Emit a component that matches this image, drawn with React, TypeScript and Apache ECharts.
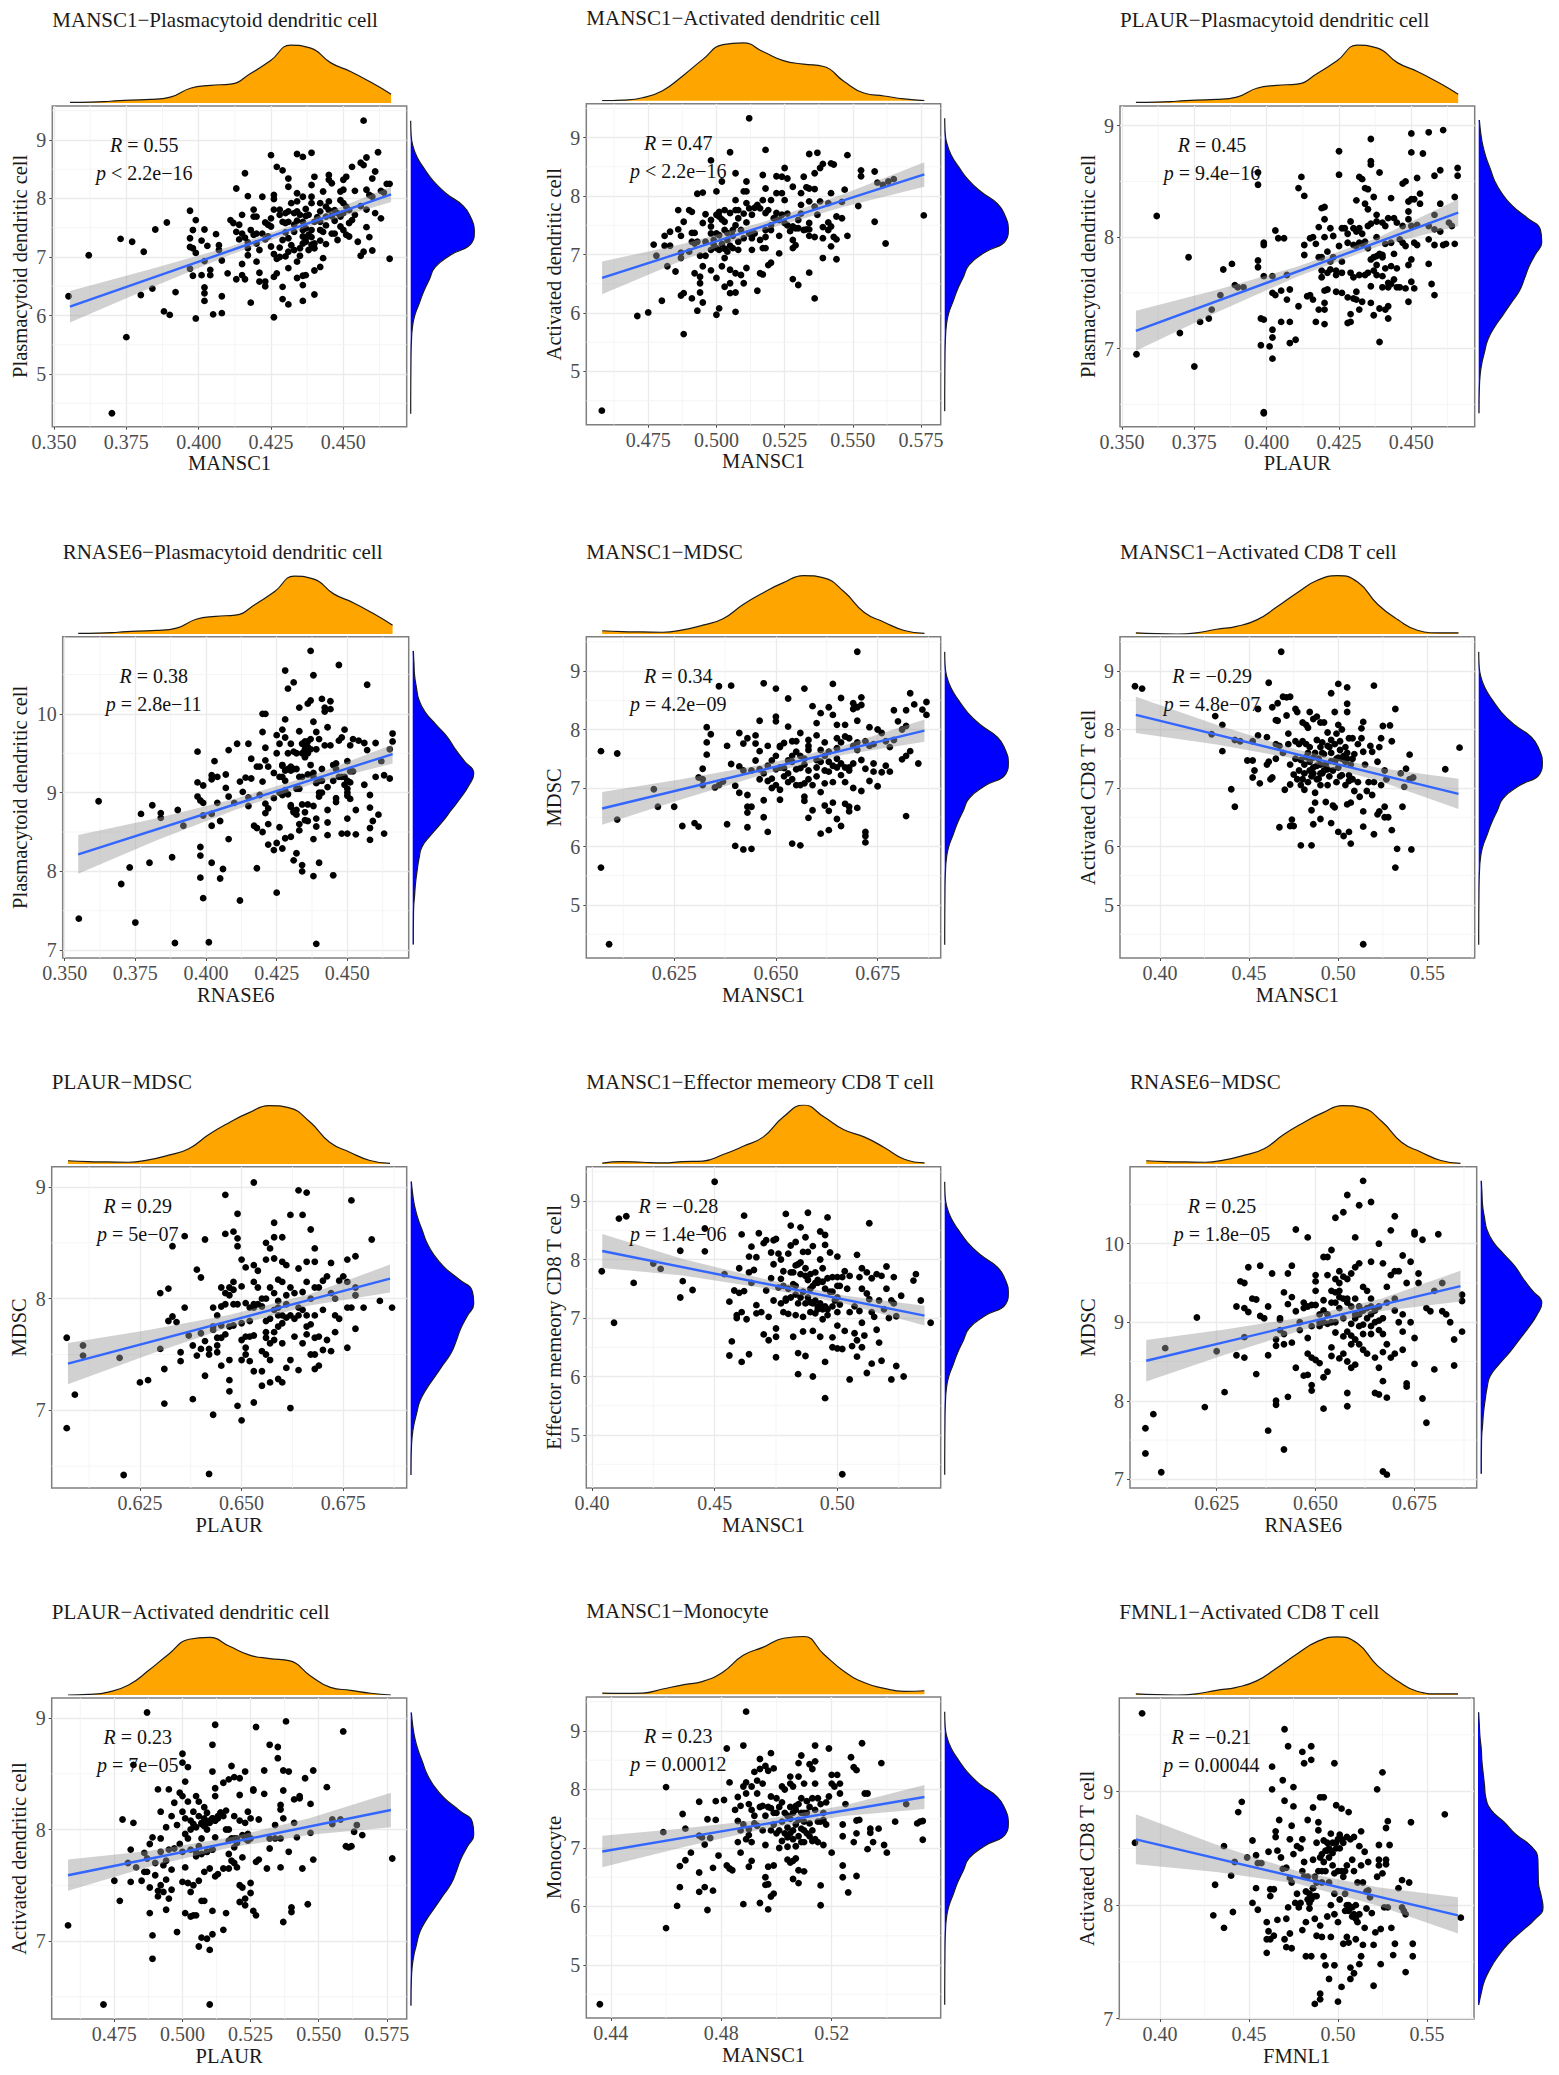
import { useEffect, useRef } from 'react';
import * as echarts from 'echarts';

const FONT = '"Liberation Serif", "Times New Roman", serif';

const titles = [
  'MANSC1\u2212Plasmacytoid dendritic cell', 'MANSC1\u2212Activated dendritic cell', 'PLAUR\u2212Plasmacytoid dendritic cell',
  'RNASE6\u2212Plasmacytoid dendritic cell', 'MANSC1\u2212MDSC', 'MANSC1\u2212Activated CD8 T cell',
  'PLAUR\u2212MDSC', 'MANSC1\u2212Effector memeory CD8 T cell', 'RNASE6\u2212MDSC',
  'PLAUR\u2212Activated dendritic cell', 'MANSC1\u2212Monocyte', 'FMNL1\u2212Activated CD8 T cell',
];
const xNames = ['MANSC1', 'MANSC1', 'PLAUR', 'RNASE6', 'MANSC1', 'MANSC1', 'PLAUR', 'MANSC1', 'RNASE6', 'PLAUR', 'MANSC1', 'FMNL1'];
const yNames = [
  'Plasmacytoid dendritic cell', 'Activated dendritic cell', 'Plasmacytoid dendritic cell',
  'Plasmacytoid dendritic cell', 'MDSC', 'Activated CD8 T cell',
  'MDSC', 'Effector memeory CD8 T cell', 'MDSC',
  'Activated dendritic cell', 'Monocyte', 'Activated CD8 T cell',
];
const rLabels = ['0.55', '0.47', '0.45', '0.38', '0.34', '\u22120.29', '0.29', '\u22120.28', '0.25', '0.23', '0.23', '\u22120.21'];
const pLabels = ['< 2.2e\u221216', '< 2.2e\u221216', '= 9.4e\u221216', '= 2.8e\u221211', '= 4.2e\u221209', '= 4.8e\u221207', '= 5e\u221207', '= 1.4e\u221206', '= 1.8e\u221205', '= 7e\u221205', '= 0.00012', '= 0.00044'];

// axis ranges and ticks
const xRanges = [[.3494, .4719], [.4523, .5822], [.3493, .4719], [.3493, .4717], [.6034, .6905], [.3776, .5765], [.6033, .6906], [.3977, .5421], [.6031, .6907], [.452, .5823], [.4311, .5595], [.3772, .5764]];
const yRanges = [[4.1, 9.58], [4.09, 9.58], [6.3, 9.176], [6.9, 10.98], [4.094, 9.587], [4.094, 9.587], [6.304, 9.182], [4.094, 9.587], [6.89, 10.98], [6.3, 9.18], [4.094, 9.58], [6.997, 9.825]];
const xTicks = [
  [.35, .375, .4, .425, .45], [.475, .5, .525, .55, .575], [.35, .375, .4, .425, .45],
  [.35, .375, .4, .425, .45], [.625, .65, .675], [.4, .45, .5, .55],
  [.625, .65, .675], [.4, .45, .5], [.625, .65, .675],
  [.475, .5, .525, .55, .575], [.44, .48, .52], [.4, .45, .5, .55],
];
const xDecimals = [3, 3, 3, 3, 3, 2, 3, 2, 3, 3, 2, 2];
const yTicks = [[5, 6, 7, 8, 9], [5, 6, 7, 8, 9], [7, 8, 9], [7, 8, 9, 10], [5, 6, 7, 8, 9], [5, 6, 7, 8, 9], [7, 8, 9], [5, 6, 7, 8, 9], [7, 8, 9, 10], [7, 8, 9], [5, 6, 7, 8, 9], [7, 8, 9]];

// regression lines and half width of the grey band at five even steps along it
const lineXs = [[.3555, .4665], [.4581, .5762], [.3548, .4662], [.3548, .466], [.6073, .6865], [.3865, .5674], [.6073, .6865], [.4042, .5355], [.6072, .6866], [.458, .5765], [.4369, .5536], [.3865, .5674]];
const lineYs = [[6.15, 8.07], [6.6, 8.37], [7.16, 8.22], [8.216, 9.49], [6.65, 7.98], [8.25, 6.9], [7.418, 8.18], [8.145, 7.04], [8.51, 9.46], [7.59, 8.175], [6.94, 7.87], [8.58, 7.91]];
const bandHalf = [
  [.27, .16, .07, .06, .13], [.28, .14, .07, .11, .21], [.18, .1, .045, .04, .12],
  [.245, .14, .07, .055, .12], [.28, .17, .085, .08, .19], [.31, .17, .08, .11, .26],
  [.185, .11, .055, .05, .125], [.29, .14, .08, .07, .17], [.265, .16, .08, .08, .195],
  [.14, .07, .045, .075, .155], [.27, .16, .08, .09, .205], [.22, .12, .055, .08, .16],
];

// marginal densities, heights relative to the peak
const topA = [.01, .015, .03, .05, .06, .1, .25, .3, .32, .5, .72, .98, .93, .68, .53, .35, .15];
const topB = [0, .01, .05, .17, .42, .7, .95, .98, .83, .68, .62, .58, .33, .13, .08, .03, 0];
const topC = [.055, .04, .035, .03, .07, .15, .26, .5, .7, .87, .99, .95, .72, .37, .2, .06, .01];
const topD = [.02, .005, 0, .02, .08, .13, .24, .46, .7, .91, .99, .88, .5, .24, .06, .02, .02];
const topE = [.015, .04, .03, .02, .04, .05, .16, .3, .46, .8, 1, .8, .58, .46, .28, .08, .02];
const topF = [.02, .015, .02, .09, .16, .22, .38, .66, .8, .95, .98, .68, .39, .2, .1, .05, .06];
const topDensity = [topA, topB, topA, topA, topC, topD, topC, topE, topC, topB, topF, topD];

const rightAlpha = [0, .005, .03, .1, .22, .36, .56, .82, .94, .99, .95, .62, .38, .29, .2, .13, .06, .025, .012, .006, .004, .002, .001, 0, 0];
const rightBeta = [.01, .03, .06, .11, .18, .25, .36, .52, .75, .96, .98, .88, .78, .71, .63, .5, .37, .24, .14, .09, .045, .02, .01, .006, .005];
const rightGamma = [.01, .02, .03, .06, .1, .2, .37, .55, .68, .83, .98, .9, .77, .62, .47, .3, .15, .1, .07, .045, .03, .015, .012, .01, .01];
const rightDelta = [.01, .02, .03, .05, .06, .08, .1, .12, .2, .4, .58, .82, .92, .925, .93, .97, 1, .87, .66, .46, .31, .19, .1, .05, .01];
const rightDensity = [rightAlpha, rightAlpha, rightBeta, rightGamma, rightAlpha, rightAlpha, rightBeta, rightAlpha, rightGamma, rightBeta, rightAlpha, rightDelta];
const rightSpan = [[9.33, 4.32], [9.33, 4.32], [9.05, 6.42], [10.8, 7.07], [9.33, 4.32], [9.33, 4.32], [9.05, 6.42], [9.33, 4.32], [10.8, 7.07], [9.05, 6.42], [9.33, 4.32], [9.7, 7.12]];

// points, flat x,y pairs
const pts1 = [.355,6.33,.362,7.03,.37,4.33,.373,7.31,.375,5.63,.377,7.26,.38,6.35,.381,7.09,.384,6.46,.385,7.47,.388,6.07,.389,7.59,.39,6.01,.392,6.4,.397,7.79,.397,6.8,.397,7.32,.397,7.17,.398,7.46,.398,7.15,.399,7.07,.398,6.68,.399,5.95,.399,7.63,.401,7.28,.401,6.69,.402,6.93,.402,6.48,.402,6.38,.402,6.25,.402,7.47,.403,7.19,.404,6.69,.404,6.78,.405,6.02,.406,7.39,.407,7.2,.407,7.12,.408,6.33,.408,6.04,.408,6.94,.41,6.72,.411,7.63,.412,7.58,.413,7.43,.413,8.17,.413,6.62,.415,6.69,.416,6.62,.415,7.72,.414,7.3,.415,6.88,.416,8.43,.416,7.33,.417,8.04,.418,7.46,.418,6.22,.417,7.15,.417,7.03,.419,7.81,.419,7.69,.42,7.69,.42,7.4,.42,7.23,.42,6.92,.421,6.73,.421,6.58,.422,8.03,.423,7.59,.422,7.4,.423,6.58,.423,6.5,.425,8.74,.425,7.18,.424,7.35,.426,5.97,.426,6.66,.427,6.72,.427,8.54,.426,8.06,.426,7.99,.426,7.81,.428,7.81,.425,7.52,.425,7.66,.427,6.97,.428,7,.429,8.48,.429,6.49,.429,6.28,.43,7.01,.43,7.75,.431,7.78,.433,7.75,.434,7.78,.431,8.34,.431,8.2,.431,6.81,.431,6.19,.434,8.09,.432,7.92,.434,7.95,.43,7.58,.431,7.6,.429,7.29,.432,7.2,.433,7.12,.431,7.09,.434,6.92,.434,8.76,.436,8.71,.439,8.78,.434,6.64,.436,6.68,.437,6.69,.436,6.52,.436,6.25,.436,8.03,.437,7.82,.436,7.46,.437,7.49,.439,7.46,.436,7.35,.437,7.32,.438,7.38,.439,7.34,.436,7.23,.437,7.26,.439,7.21,.44,7.23,.439,7.92,.44,8.37,.439,8.23,.439,8.03,.44,6.36,.44,6.77,.442,6.83,.443,6.98,.443,8.12,.442,7.92,.444,7.86,.442,7.78,.444,7.69,.442,7.46,.443,7.43,.445,8.4,.445,8.32,.446,8.26,.445,7.95,.445,7.8,.447,7.8,.446,7.4,.447,7.4,.448,7.29,.449,7.97,.449,8.12,.45,8.15,.45,8.32,.451,8.37,.453,8.54,.448,7.75,.449,7.69,.45,7.75,.45,7.92,.451,7.86,.449,7.52,.45,7.46,.451,7.38,.452,7.35,.452,7.58,.453,7.63,.454,8.13,.455,7.26,.456,8.61,.457,8.57,.457,9.33,.458,8.7,.462,8.79,.456,7.02,.457,7.09,.458,7.51,.459,7.34,.46,7.11,.458,8.15,.46,8.34,.461,8.46,.456,7.87,.458,7.81,.459,8.06,.46,8.03,.461,7.75,.463,7.66,.463,8.13,.464,8.1,.465,8.25,.466,8.25,.466,6.97,
  .428,7.72,.429,7.6,.43,7.42,.431,7.32,.433,7.55,.434,7.62,.435,7.72,.436,7.6,.437,7.7,.438,7.72,.44,7.6,.441,7.68,.442,7.6,.444,7.54,.438,7.12,.44,7.15,.442,7.28,.444,7.22,.446,7.7,.447,7.62,.452,7.8,.454,7.72,.433,7.43,.435,7.15,.435,7.02,.428,7.16,.426,7.05,.424,7.55,.423,7.3,.421,7.12,.419,7.38,.417,7.25,.415,7.4,.414,7.55];
const pts2 = [.458,4.33,.471,5.95,.475,6.01,.48,6.21,.477,7.17,.478,6.98,.481,7.32,.481,7.15,.483,7.15,.482,6.8,.483,7.39,.486,7.43,.486,7.76,.487,7.32,.485,6.71,.487,6.94,.487,7.03,.488,7.56,.487,6.3,.488,6.34,.488,5.64,.491,6.25,.49,7.76,.491,7.73,.491,7.37,.492,7.37,.491,7.22,.492,7.19,.49,7.05,.493,7.22,.492,6.68,.494,6.62,.494,6.51,.494,6.35,.493,6.04,.495,6.18,.493,8.04,.495,8.06,.495,7.54,.494,6.98,.496,6.98,.495,6.8,.498,6.73,.496,7.69,.498,7.59,.498,7.48,.498,7.36,.5,7.36,.496,7.22,.499,7.17,.5,7.11,.501,7.08,.498,8.61,.5,8.08,.502,8.25,.505,8.75,.5,6.6,.502,6.8,.505,6.74,.501,6.08,.5,5.97,.507,8.39,.507,6.02,.503,6.45,.505,6.51,.505,6.34,.507,6.35,.501,7.73,.501,7.65,.503,7.56,.503,7.76,.505,7.71,.507,7.76,.508,7.76,.503,7.42,.504,7.37,.506,7.42,.507,7.93,.51,8.08,.511,8.08,.506,7.11,.508,7.08,.504,7.25,.503,6.94,.507,6.68,.509,6.65,.51,6.51,.511,6.77,.508,7.22,.51,7.28,.511,8.25,.512,9.33,.512,7.79,.511,7.88,.509,7.42,.512,7.36,.513,7.08,.515,6.38,.516,6.68,.517,6.66,.516,7.79,.517,8.36,.517,7.93,.518,8.79,.518,8.13,.518,7.71,.519,7.76,.518,7.42,.52,7.42,.517,7.11,.518,7.11,.519,6.82,.52,6.86,.52,7.93,.522,8.34,.524,8.33,.522,8.05,.524,8.05,.525,7.93,.525,8.48,.526,8.3,.528,8.16,.522,7.71,.523,7.59,.525,7.54,.523,7.32,.523,7.02,.526,7.7,.528,7.48,.529,7.45,.528,7.25,.528,7.11,.529,7.16,.528,6.58,.53,6.48,.531,8.05,.531,7.85,.53,7.59,.532,8.33,.533,8.15,.534,8.13,.536,8.12,.534,8.72,.537,8.74,.536,8.39,.538,8.48,.539,8.55,.542,8.56,.543,8.54,.533,7.43,.534,7.43,.534,7.32,.536,7.3,.534,7.54,.536,6.25,.534,6.69,.534,7.91,.536,7.82,.538,7.91,.541,7.88,.537,7.68,.539,7.28,.539,6.94,.539,7.47,.541,7.42,.542,7.48,.542,7.14,.541,7.55,.544,6.92,.543,7.3,.544,7.26,.542,8.05,.547,8.11,.548,8.7,.544,7.65,.546,7.62,.546,7.9,.548,7.32,.552,7.83,.553,8.44,.553,8.34,.558,8.42,.559,8.23,.561,8.19,.563,8.25,.565,8.29,.558,7.56,.562,7.19,.576,7.67,
  .498,7.08,.499,7.25,.501,7.33,.502,7.18,.503,7.1,.504,7.05,.505,7.15,.506,7.32,.507,7.5,.508,7.62,.51,7.7,.511,7.55,.513,7.68,.514,7.8,.515,7.85,.513,7.28,.514,7.36,.516,7.25,.518,7.3,.52,7.5,.521,7.62,.522,7.6,.524,7.68,.526,7.5,.527,7.4,.53,7.45,.531,7.7,.532,7.42,.5,7.68,.502,7.6];
const pts3 = [.355,6.95,.362,8.19,.37,7.14,.373,7.82,.375,6.84,.377,7.24,.38,7.27,.381,7.35,.384,7.48,.385,7.71,.388,7.76,.389,7.57,.39,7.55,.392,7.55,.397,8.58,.397,8.47,.397,7.79,.397,7.73,.398,7.03,.398,7.27,.399,7.26,.399,6.42,.399,6.43,.399,7.95,.399,7.93,.399,7.65,.401,7.02,.402,7.1,.402,7.17,.402,7.65,.402,7.5,.403,7.48,.402,6.91,.403,8.06,.404,7.99,.405,7.24,.405,7.52,.406,7.99,.407,7.66,.408,7.05,.408,7.53,.407,7.44,.408,7.24,.41,7.08,.411,8.44,.412,8.54,.411,7.38,.413,8.37,.413,7.93,.413,7.84,.414,7.47,.415,7.48,.415,7.99,.416,8,.416,7.44,.417,7.94,.418,8.09,.418,7.82,.418,7.35,.417,7.24,.419,8.26,.42,8.27,.419,7.82,.419,7.7,.419,7.64,.42,8.16,.42,8,.42,7.52,.42,7.41,.42,7.35,.42,7.22,.421,7.87,.422,7.78,.421,7.53,.422,7.71,.422,8.08,.423,8.01,.424,7.51,.424,7.66,.425,8.77,.425,8.56,.425,7.92,.426,7.78,.426,7.68,.426,7.5,.427,8.08,.428,8.03,.428,7.46,.428,7.23,.429,7.31,.429,7.24,.429,8.14,.43,8.08,.43,7.93,.43,7.64,.431,7.51,.431,7.44,.431,8.05,.431,8.33,.432,8.08,.432,8.54,.433,8.52,.432,7.66,.432,7.35,.433,7.94,.433,8.03,.434,8.44,.435,8.43,.434,8.3,.435,8.25,.436,8.88,.436,8.68,.436,8.65,.435,7.68,.436,7.8,.436,7.56,.436,7.41,.437,7.3,.437,8.36,.438,8.14,.438,7.83,.438,8,.439,8.58,.438,8.2,.439,7.06,.439,7.36,.44,8.13,.44,7.84,.44,7.65,.441,8.1,.441,7.94,.441,7.35,.442,8.17,.442,7.38,.442,7.59,.442,7.27,.443,8.35,.443,7.74,.444,8.17,.444,7.85,.444,7.62,.445,8.13,.445,7.55,.446,7.98,.447,8.48,.447,7.95,.448,8.5,.448,7.54,.449,8.32,.449,8.23,.449,8.16,.45,8.93,.45,8.76,.45,8.34,.45,8.1,.449,7.75,.449,7.42,.45,7.8,.45,7.6,.451,8.34,.451,7.95,.451,7.54,.452,8.53,.452,8.11,.452,7.93,.453,8.39,.453,8.3,.454,8.75,.456,8.94,.456,8.1,.456,7.76,.456,7.98,.457,7.58,.458,8.55,.458,8.2,.458,8.07,.458,7.93,.458,7.48,.46,8.6,.46,8.3,.46,8.05,.461,8.96,.461,7.93,.462,7.94,.463,8.13,.464,8.1,.465,8.36,.465,7.94,.466,8.62,.466,8.55,
  .426,8.08,.428,7.95,.429,7.68,.43,7.45,.431,7.92,.432,7.95,.433,7.42,.434,7.96,.434,7.66,.435,8.1,.435,7.9,.436,8.12,.437,7.7,.437,7.82,.438,7.66,.438,7.75,.439,7.85,.44,7.82,.44,7.55,.441,7.72,.442,7.55,.443,7.95,.443,7.58,.445,7.72,.446,7.55,.447,8.1,.448,7.92,.424,7.7,.423,7.82,.421,7.68];
const pts4 = [.355,7.4,.362,8.89,.37,7.84,.373,8.05,.375,7.35,.377,8.73,.38,8.11,.381,8.84,.384,8.68,.384,8.74,.388,8.18,.389,7.09,.39,8.78,.392,8.58,.397,9.52,.397,9.13,.397,8.95,.398,8.9,.398,8.31,.398,8.2,.398,7.92,.399,9.09,.399,8.87,.399,8.71,.399,7.66,.401,7.1,.402,9.22,.402,9.17,.402,8.11,.402,8.58,.402,8.73,.403,9.4,.404,9.2,.404,8.87,.405,7.91,.405,8.64,.406,8.03,.407,9.23,.407,9.06,.408,9.54,.408,8.95,.408,8.41,.41,8.87,.411,9.62,.412,9.14,.412,7.63,.413,9.01,.414,9.19,.415,9.62,.415,8.94,.415,8.83,.416,9.43,.416,9.18,.417,8.58,.418,9.33,.418,8.04,.418,8.55,.419,9.33,.419,8.97,.42,10.0,.42,9.77,.42,9.14,.42,8.5,.421,10,.421,9.57,.421,9.41,.421,8.86,.421,8.74,.422,9.33,.422,8.8,.422,8.34,.422,8.6,.424,9.25,.424,8.93,.424,8.27,.425,9.73,.425,9.5,.425,7.73,.425,8.36,.426,9.62,.426,9.2,.426,8.56,.427,9.8,.427,9.34,.427,9.2,.427,8.97,.427,8.29,.428,10.55,.428,9.93,.428,9.7,.428,9.28,.428,9.03,.428,8.42,.429,10.32,.429,9.3,.429,8.98,.43,9.62,.43,9.33,.43,8.44,.43,8.84,.431,9.52,.431,8.76,.431,8.14,.431,10.4,.432,9.5,.432,9.3,.432,8.78,.432,8.23,.433,10.08,.433,9.78,.433,9.05,.433,8.6,.433,8.52,.434,9.62,.434,9.2,.434,8.08,.434,8.0,.435,9.6,.435,9.55,.435,8.75,.436,10.13,.436,9.65,.436,9.5,.436,9.23,.436,8.64,.436,8.85,.437,10.8,.437,10.17,.437,9.68,.437,9.35,.438,9.9,.438,9.25,.438,8.83,.438,7.94,.438,8.41,.438,10.49,.439,9.77,.439,9.55,.439,8.67,.439,7.08,.439,8.57,.44,9.68,.44,9.15,.44,8.11,.441,10.19,.441,9,.441,9.3,.442,10.03,.442,10.08,.442,9.6,.443,9.83,.443,9.07,.443,8.78,.443,8.46,.443,8.62,.444,10.16,.444,10.06,.444,9.6,.445,9.35,.445,9.15,.445,7.95,.446,8.93,.446,9.37,.446,8.88,.447,10.62,.447,9.66,.448,9.7,.448,8.48,.449,9.8,.449,9.2,.45,9.4,.45,9.05,.45,8.96,.45,8.67,.45,8.48,.451,9.6,.451,9.13,.451,8.92,.452,9.68,.452,9.27,.453,8.78,.453,8.47,.454,9.66,.456,9.63,.457,10.37,.456,9.1,.457,9.54,.458,8.97,.458,8.81,.458,8.55,.458,8.4,.459,8.64,.46,9.63,.46,9.2,.461,8.72,.462,9.4,.463,9.22,.463,8.48,.465,9.18,.465,9.55,.466,9.65,.466,9.75,
  .426,9.0,.427,9.35,.428,9.15,.429,9.5,.43,9.28,.431,9.3,.432,9.05,.433,9.2,.434,9.5,.435,9.65,.435,9.45,.436,9.58,.437,9.55,.438,9.2,.439,9.12,.44,9,.44,8.95,.441,9.15,.43,8.82,.431,8.75,.432,8.72,.434,8.85,.435,8.65,.446,9.3,.447,9.2,.448,9.2,.449,9.1,.45,9.0,.45,9.15,.451,9.27];
const pts5 = [.607,7.63,.607,5.64,.609,4.33,.611,7.59,.611,6.46,.62,6.98,.621,6.68,.625,6.68,.627,6.35,.63,6.4,.631,7.18,.631,6.34,.632,7.33,.632,7.15,.632,7.05,.633,7.57,.633,8.04,.633,7.78,.634,7.92,.635,7.01,.636,7.05,.636,8.74,.637,7.11,.638,7.72,.638,6.38,.639,8.75,.639,7.41,.64,6.01,.64,7.04,.641,7.94,.641,6.92,.641,7.37,.642,7.3,.642,5.95,.642,7.76,.643,7.85,.643,6.33,.643,6.88,.643,6.58,.643,6.68,.644,5.96,.644,7.3,.644,6.68,.645,7.9,.645,7.76,.645,7.47,.646,7.63,.646,7.15,.646,8.15,.647,6.5,.647,6.79,.647,8.79,.648,7.72,.648,7.12,.648,6.25,.649,7.47,.649,7.16,.65,7.05,.65,8.22,.65,8.14,.65,7.32,.65,8.7,.651,7.72,.651,6.97,.651,6.8,.652,7.77,.652,7.34,.653,8.05,.653,8.53,.653,7.1,.653,7.47,.654,7.8,.654,6.05,.654,7.55,.655,7.32,.655,7.8,.656,7.94,.656,6.02,.656,7.34,.656,7.05,.657,7.08,.657,6.78,.657,6.85,.657,8.7,.658,7.72,.658,7.3,.658,6.49,.658,7.65,.659,8.4,.659,6.62,.66,7.2,.66,7.9,.66,7.48,.66,8.11,.661,8.28,.661,6.93,.661,6.22,.661,7.65,.662,7.78,.662,7.3,.662,7.08,.662,6.7,.663,8.38,.663,6.28,.663,7.45,.663,6.61,.664,7.1,.664,6.75,.664,8.78,.664,8.25,.665,7.5,.665,7.85,.665,8.08,.665,6.47,.666,7.22,.666,7.42,.666,6.35,.666,8.54,.667,7.88,.667,7.1,.667,6.73,.667,8.08,.668,7.35,.668,6.6,.668,7.85,.668,6.68,.669,8.35,.669,7.42,.669,8.45,.669,7.0,.67,7.65,.67,8.38,.67,8.15,.67,6.66,.67,9.33,.671,8.55,.671,8.42,.671,7.48,.671,6.95,.672,7.8,.672,7.33,.672,6.25,.672,6.18,.672,6.07,.673,8.04,.673,7.72,.673,7.12,.674,7.42,.674,7.28,.674,7.75,.675,8,.675,7.03,.676,7.94,.676,7.27,.677,7.38,.677,7.8,.678,7.7,.678,7.28,.679,7.82,.679,8.33,.68,8.14,.681,8.0,.681,7.49,.682,8.06,.682,8.33,.682,7.55,.682,6.52,.683,8.62,.683,7.63,.684,8.43,.685,7.42,.686,8.34,.687,8.25,.687,8.47,
  .646,7.32,.647,7.25,.648,7.38,.649,7.0,.65,7.55,.651,7.35,.651,7.7,.652,7.2,.653,7.25,.654,7.45,.654,7.15,.655,7.62,.655,7.05,.656,7.55,.657,7.5,.657,7.4,.658,7.82,.658,7.15,.659,7.05,.66,7.35,.661,7.45,.662,7.55,.663,7.62,.663,7.28,.664,7.38,.665,7.35,.665,7.68,.666,7.78,.667,7.35,.668,7.3,.669,7.72,.67,7.78];
const pts6 = [.386,8.74,.39,8.7,.429,7.92,.431,8.23,.435,8.08,.435,7.63,.44,6.98,.442,6.68,.442,7.82,.445,7.8,.449,7.47,.452,7.47,.452,7.8,.452,7.18,.453,7.3,.455,8.35,.455,7.9,.456,7.08,.461,8.8,.46,7.87,.46,7.4,.461,7.45,.462,7.15,.463,8.38,.463,7.18,.465,8.16,.465,7.75,.465,7.5,.466,8.45,.466,8.15,.467,7.72,.467,6.33,.468,9.33,.469,8.56,.469,7.6,.47,6.97,.471,8.55,.471,8.24,.472,7.93,.472,7.75,.473,8.56,.473,7.4,.473,7.06,.473,6.35,.474,6.46,.475,7.23,.475,6.35,.476,8.35,.476,7.8,.477,7.15,.477,8.3,.478,7.3,.479,7.05,.479,6.02,.48,8.12,.48,7.8,.481,7.25,.481,6.97,.482,8.08,.482,7.53,.483,7.1,.483,8.03,.484,8.3,.484,7.7,.484,7.3,.485,6.02,.485,6.62,.486,8.18,.486,7.52,.486,7.25,.486,6.38,.487,6.92,.487,6.75,.488,8.22,.488,7.82,.488,7.38,.489,7.16,.49,8.12,.49,7.7,.49,7.4,.49,6.47,.491,7.78,.491,7.25,.492,8.12,.492,7.58,.493,6.76,.494,7.95,.494,7.32,.494,7.05,.495,7.7,.496,8.62,.496,7.82,.496,6.4,.496,7.46,.497,6.7,.498,8.3,.498,7.45,.498,6.67,.499,7.93,.499,7.1,.5,8.78,.5,8.08,.5,6.25,.5,7.52,.501,7.8,.501,7.2,.502,8.0,.502,7.5,.503,6.18,.504,7.7,.504,7.05,.505,8.72,.505,8.44,.505,8.3,.505,7.5,.505,6.72,.506,6.25,.506,7.85,.506,7.22,.507,6.75,.507,6.05,.508,7.5,.508,7.15,.509,7.58,.509,6.95,.511,7.75,.511,7.1,.512,6.85,.513,8.02,.513,7.85,.514,8.13,.514,7.62,.514,6.6,.514,6.34,.514,4.33,.515,7.4,.516,6.95,.517,7.1,.518,7.72,.519,7.62,.519,6.88,.52,7.1,.52,6.21,.52,8.75,.522,7.45,.522,6.55,.523,7.7,.523,6.6,.524,7.05,.524,7.85,.525,8.06,.526,7.3,.526,6.5,.526,6.68,.527,7.15,.528,6.5,.529,8.07,.53,6.28,.53,7.8,.532,8.35,.532,5.64,.533,5.96,.535,7.25,.536,6.68,.537,7.02,.538,7.33,.54,7.57,.54,7.15,.541,5.95,.542,7.18,.56,7.32,.568,7.69,
  .476,7.5,.478,7.75,.479,7.48,.48,7.15,.481,7.4,.482,7.75,.483,7.6,.484,7.45,.485,7.2,.486,7.35,.487,7.6,.488,7.15,.489,7.5,.49,7.25,.491,7.6,.492,7.3,.493,7.4,.494,7.72,.495,7.2,.496,7.6,.497,7.3,.498,7.75,.499,7.5,.5,7.35,.501,7.65,.502,7.22,.503,7.55,.504,7.45,.505,7.6,.506,7.12,.507,7.4,.508,7.85,.49,7.05];
const pts7 = [.607,7.65,.607,6.84,.609,7.14,.611,7.58,.611,7.49,.62,7.47,.621,6.42,.625,7.25,.627,7.27,.63,7.55,.63,8.05,.631,7.06,.631,7.37,.632,8.09,.632,7.8,.633,7.84,.633,8.47,.634,7.79,.635,7.52,.635,7.44,.636,8.56,.636,7.92,.637,7.67,.638,7.58,.638,7.1,.639,8.26,.639,7.49,.64,7.55,.64,7.69,.64,8.19,.641,7.62,.641,7.31,.641,8.53,.642,7.55,.642,7.5,.642,6.43,.643,7.72,.643,6.96,.643,7.92,.644,7.85,.644,7.58,.644,7.52,.645,7.76,.645,7.65,.645,7.93,.645,7.4,.646,8.93,.646,8.58,.646,7.95,.646,7.68,.647,8.1,.647,8.03,.647,7.45,.647,7.17,.647,7.27,.648,8.6,.648,8.15,.648,8.08,.648,7.76,.649,8.54,.649,8.76,.649,8.47,.649,7.95,.649,7.04,.65,8.35,.65,8.11,.65,7.78,.65,7.45,.65,6.91,.651,8.28,.651,7.96,.651,7.66,.651,7.56,.652,7.92,.652,7.8,.652,7.44,.653,9.04,.653,8.3,.653,8.15,.653,7.95,.653,7.67,.653,7.35,.653,7.07,.654,8.1,.654,8.25,.655,7.93,.655,7.53,.655,7.35,.655,7.22,.656,8.5,.656,8.35,.656,8,.656,7.8,.656,7.5,.657,8.45,.657,8.1,.657,7.45,.657,7.25,.658,8.68,.658,8.55,.658,8.36,.658,8.05,.658,7.7,.658,7.63,.659,8.17,.659,7.92,.659,7.28,.659,7.85,.66,8.55,.66,8.33,.66,8.15,.66,7.6,.66,7.25,.661,8.3,.661,8.03,.661,7.83,.661,7.38,.662,8.75,.662,8.1,.662,7.45,.662,7.02,.663,8.05,.663,7.66,.664,8.97,.664,8.27,.664,7.85,.664,7.36,.665,8.75,.665,8.06,.665,7.6,.666,8.33,.666,8.15,.666,7.85,.666,7.68,.666,8.95,.667,8.62,.667,8.0,.667,7.77,.668,8.45,.668,8.33,.668,7.85,.668,7.5,.668,7.37,.669,8.1,.669,7.66,.669,7.4,.67,8.16,.67,7.9,.67,7.54,.671,8.2,.671,7.63,.672,8.32,.672,8.05,.672,7.53,.673,8.0,.673,7.85,.673,7.7,.674,8.16,.674,7.82,.675,8.2,.676,8.15,.676,7.92,.676,8.35,.676,7.56,.677,8.88,.677,7.92,.678,8.1,.678,8.03,.678,7.73,.678,8.38,.68,7.92,.682,8.53,.684,7.98,.687,7.92,
  .652,7.66,.653,7.92,.654,7.95,.655,8.0,.656,7.7,.657,7.82,.658,7.9,.659,7.98,.659,7.75,.66,7.85,.66,7.78,.661,7.95,.662,7.85,.663,7.82,.664,7.92,.665,7.9,.666,7.75,.667,7.5,.668,8.1,.668,7.65,.65,7.63,.651,7.5,.648,7.95,.647,7.75,.646,8.05,.645,8.1,.644,7.65,.643,7.75,.656,7.65,.657,7.6];
const pts8 = [.404,7.8,.409,6.92,.411,8.7,.414,8.74,.417,7.6,.425,7.93,.428,7.84,.436,8.15,.436,7.35,.437,7.63,.441,7.48,.446,8.53,.446,8.14,.45,9.33,.454,7.75,.456,7.28,.456,6.36,.457,6.6,.458,7.47,.459,7.05,.459,7,.46,7.85,.46,7.43,.461,6.25,.461,8.43,.461,7.1,.462,8.75,.462,7.46,.463,6.98,.464,8.05,.464,7.78,.464,6.38,.465,8.22,.465,7.6,.466,7.82,.467,8.04,.467,7.22,.467,7.08,.468,8.45,.469,7.1,.47,8.28,.47,6.72,.471,7.47,.471,8.33,.472,7.02,.472,6.62,.473,7.68,.473,8.12,.474,8.33,.474,7.92,.474,7.3,.475,6.68,.475,6.82,.475,8.35,.475,6.33,.476,8.1,.476,7.52,.477,7.67,.477,8.0,.477,7.25,.478,7.8,.478,7.1,.479,8.78,.479,7.33,.48,8.1,.48,7.07,.481,8.58,.481,8.24,.481,7.78,.482,6.68,.482,7.58,.483,7.4,.483,8.3,.483,7.05,.484,6.4,.484,6.04,.484,7.92,.485,8.55,.485,7.35,.486,8.13,.486,7.02,.486,6.77,.487,8.38,.487,7.85,.487,6.35,.488,8.8,.488,8.13,.488,7.65,.489,7.27,.489,7.1,.49,6.0,.49,8.23,.49,7.55,.49,6.78,.491,7.78,.491,7.08,.492,7.2,.492,7.6,.493,8.48,.493,8.0,.493,6.68,.494,7.85,.494,7.15,.494,6.98,.495,8.42,.495,8.25,.495,7.5,.495,6.25,.495,5.63,.496,7.68,.496,8.72,.496,7.05,.497,8.12,.498,7.7,.498,7.45,.498,6.67,.498,6.5,.5,8.05,.5,7.7,.5,7.35,.5,7.1,.5,6.87,.5,6.48,.501,7.23,.502,7.7,.502,6.47,.502,4.33,.503,7.8,.503,6.78,.504,7.5,.505,7.72,.505,7.1,.505,5.95,.506,6.52,.507,7.2,.507,6.74,.508,8.08,.508,6.62,.508,6.34,.509,7.7,.509,7.12,.51,7.85,.51,7.5,.51,6.92,.51,6.5,.511,6.7,.512,7.78,.512,7.42,.512,6.06,.513,7.32,.513,8.62,.514,7.68,.514,7.1,.514,6.22,.515,7.02,.516,7.75,.516,6.8,.517,7.3,.517,6.58,.518,7.72,.518,6.27,.519,7.15,.52,7.88,.52,7.5,.521,7,.522,7.3,.522,5.95,.523,7.7,.523,7.25,.524,7.03,.524,6.18,.526,7.38,.527,6,.531,7.64,.532,7.75,.534,7.3,.538,6.92,
  .478,7.55,.479,7.3,.48,7.5,.481,7.35,.482,7.78,.483,7.55,.484,7.25,.485,7.75,.486,7.45,.487,7.25,.488,7.35,.489,7.75,.489,7.5,.49,7.25,.491,7.6,.491,7.3,.492,7.15,.492,7.65,.493,7.25,.494,7.62,.495,7.2,.496,7.15,.497,7.45,.498,7.2,.499,7.3,.5,7.55,.501,7.55,.483,7.9,.485,7.95,.487,7.72];
const pts9 = [.607,7.65,.607,7.33,.609,7.83,.611,7.09,.612,8.67,.62,9.06,.622,7.92,.625,8.63,.627,8.11,.63,8.58,.63,9.2,.631,9.52,.632,9.5,.632,9.18,.632,8.81,.632,8.55,.633,9.7,.633,9.13,.634,9.3,.635,9.29,.635,8.34,.636,9.72,.636,9.08,.637,9.05,.638,9.2,.638,8.58,.638,7.62,.639,9.62,.64,8.78,.64,8.7,.64,8.0,.64,7.95,.641,9.05,.641,8.9,.641,9.03,.642,8.85,.642,8.72,.642,9.38,.642,7.38,.643,9.62,.643,9.23,.643,8.05,.644,9.72,.644,9.32,.644,8.74,.645,10.18,.645,9.14,.645,8.42,.646,9,.646,8.9,.647,9.25,.647,9.18,.647,8.32,.648,10.08,.648,9.2,.648,8.8,.648,8.6,.648,8.33,.649,9.22,.649,8.95,.649,8.55,.649,8.2,.649,8.13,.65,9.6,.65,9.52,.65,9.4,.65,8.52,.651,9.1,.651,8.95,.651,8.48,.652,9.83,.652,9.28,.652,9,.652,8.3,.652,7.9,.653,9.83,.653,9.6,.653,8.37,.654,9.92,.654,9.0,.654,8.68,.654,8.57,.655,10.33,.655,9.38,.655,9.25,.655,8.87,.656,9.65,.656,9.4,.656,9.18,.656,8.54,.657,10.4,.657,9.58,.657,8.82,.657,8.6,.658,10.62,.658,9.55,.658,9.3,.658,8.5,.658,8.1,.658,7.93,.659,9.62,.659,9.2,.659,8.83,.659,8.42,.66,9.7,.66,9.05,.66,10.08,.66,8.78,.66,8.46,.661,10.49,.661,9.75,.661,9.1,.661,8.72,.662,10.8,.662,9.45,.662,8.97,.662,8.65,.663,9.4,.663,9.18,.663,8.6,.664,10.53,.664,9.77,.664,9.3,.664,8.95,.664,8.85,.665,9.15,.665,8.1,.665,9.0,.666,10.0,.666,8.9,.666,8.42,.666,8.08,.667,9.75,.667,9.05,.667,8.25,.667,7.1,.667,8.62,.668,9.45,.668,9.25,.668,8.04,.668,8.72,.668,7.06,.669,10.17,.669,9.6,.669,8.55,.67,9.65,.67,9.15,.67,8.6,.67,10.35,.67,9.3,.671,9.65,.671,9.0,.672,9.85,.672,9.1,.672,8.88,.672,8.65,.673,9.5,.673,8.22,.673,8.18,.674,9.77,.674,9.0,.675,10.12,.675,8.8,.675,8.47,.675,10.15,.676,9.62,.676,9.5,.677,10.05,.677,8.03,.678,9.18,.678,7.72,.679,9.14,.68,8.4,.68,9.4,.681,10.12,.682,9.5,.682,9.14,.683,9.1,.684,9.0,.685,8.78,.685,8.45,.687,9.35,.687,8.88,.687,9.27,
  .65,9.22,.651,9.0,.652,9.15,.653,9.1,.653,8.98,.654,9.4,.654,9.25,.655,9.0,.655,9.55,.656,9.5,.656,9.32,.657,9.3,.657,9.05,.658,9.25,.658,8.88,.659,8.98,.659,8.72,.66,9.3,.66,9.1,.661,9.2,.661,8.95,.662,9.15,.662,8.85,.663,9.05,.664,9.1,.664,9.2,.665,8.55,.666,9.2,.666,9.02,.667,8.85];
const pts10 = [.458,7.14,.471,6.43,.475,7.54,.477,7.36,.478,8.09,.48,7.7,.481,7.82,.481,7.53,.482,8.58,.482,8.06,.483,7.66,.485,7.54,.486,7.79,.486,7.62,.487,7.74,.487,9.05,.488,7.87,.487,7.62,.488,7.25,.488,7.48,.489,7.93,.489,7.05,.489,6.84,.49,7.7,.49,7.59,.491,7.45,.491,7.4,.491,8.36,.492,8.16,.492,7.8,.492,7.5,.492,7.92,.493,7.44,.493,7.68,.494,8.02,.494,7.72,.494,7.55,.494,7.28,.495,7.38,.495,8.36,.495,7.82,.496,7.46,.496,8.12,.496,7.64,.497,8.24,.497,7.83,.498,8.04,.498,7.08,.499,8.33,.499,7.87,.5,7.53,.5,7.8,.5,8.68,.5,8.6,.5,8.16,.5,8.3,.501,8.43,.501,8.1,.501,7.96,.501,7.66,.501,7.25,.502,8.56,.502,8.25,.502,7.92,.502,7.52,.503,8,.503,7.44,.503,7.22,.504,8.16,.504,7.5,.504,7.23,.505,8.3,.505,7.76,.505,7.23,.506,8.25,.506,7.85,.506,7.54,.506,6.95,.507,8.06,.507,7.92,.507,7.36,.507,7.03,.508,8.2,.508,8.1,.508,7.62,.508,7.36,.509,8.15,.509,7.02,.509,8.0,.509,7.8,.51,8.06,.51,7.65,.51,6.92,.51,6.43,.511,8.76,.511,8.52,.511,8.1,.511,7.82,.511,7.06,.511,7.27,.512,8.94,.512,8.37,.512,8.3,.512,8.08,.512,7.93,.512,7.58,.513,8.1,.514,8.15,.515,8.42,.515,7.1,.516,8.17,.516,7.25,.517,8.0,.517,7.78,.517,7.65,.517,8.45,.518,8.57,.518,7.72,.519,8.47,.519,8.12,.519,7.92,.519,7.84,.52,7.66,.52,7.92,.521,8.46,.521,8.31,.521,7.5,.521,7.35,.522,7.75,.522,7.48,.523,8.52,.523,8.06,.523,7.38,.523,7.32,.524,7.96,.524,7.9,.524,8.16,.525,8.1,.525,7.52,.525,7.43,.526,8.36,.526,8.35,.526,7.27,.527,8.92,.527,7.71,.527,7.23,.528,8.09,.528,7.73,.53,8.53,.53,8.32,.531,7.65,.532,8.76,.532,7.92,.532,7.83,.534,8.04,.534,7.92,.535,8.74,.535,8.64,.536,8.18,.536,8.22,.536,7.92,.536,7.66,.537,8.53,.537,8.35,.537,8.1,.537,7.17,.538,8.97,.539,8.52,.539,7.8,.54,7.3,.54,7.26,.541,8.27,.541,8.06,.542,7.93,.543,8.3,.543,8.28,.544,7.65,.545,8.46,.546,7.33,.547,8.23,.547,7.97,.548,7.73,.548,8.53,.553,8.38,.555,8.09,.555,8.05,.558,8.09,.559,8.88,.56,7.85,.561,7.84,.562,7.85,.563,7.98,.564,8.04,.566,7.95,.577,7.74,
  .503,8.08,.504,8.05,.505,8.02,.506,8.12,.507,8.05,.508,8.03,.509,8.06,.51,8.08,.511,8.1,.512,8.08,.513,8.12,.514,8.15,.515,8.12,.516,8.0,.517,7.9,.518,7.92,.519,7.7,.52,7.88,.521,8.08,.522,7.95,.523,7.92,.524,7.95,.525,7.92,.503,7.82,.505,7.8,.507,7.78,.509,7.8,.511,7.82,.513,7.6,.515,7.65];
const pts11 = [.436,4.33,.459,7.27,.46,8.04,.46,5.63,.464,6.01,.465,6.69,.465,6.33,.466,7.58,.467,6.79,.467,7.33,.469,6.92,.472,7.79,.472,7.21,.472,6.58,.472,6.25,.473,7.18,.474,7.06,.474,6.33,.475,7.49,.475,5.94,.476,7.17,.477,6.27,.477,6.66,.478,7.8,.478,7.48,.479,6.87,.481,7.82,.482,8.7,.482,6.7,.483,8.12,.483,6.65,.484,6.62,.485,7.65,.486,7.87,.486,7.1,.486,7.46,.487,7.72,.487,6.92,.487,7.3,.488,8.75,.488,8.05,.488,6.04,.488,7.4,.489,7.93,.489,7.15,.489,8.12,.489,9.33,.49,7.75,.49,6.68,.49,7.22,.491,8.05,.491,7.65,.491,7.1,.491,6.78,.492,8.3,.492,7.55,.493,8.15,.493,7.93,.493,7.38,.494,8.35,.494,6.06,.494,8.52,.495,8.1,.495,7.72,.495,7.3,.496,8.4,.496,7.05,.496,6.5,.496,6.37,.497,8.32,.497,7.7,.497,6.38,.497,5.95,.497,6.68,.498,8.62,.498,7.88,.498,7.3,.498,6.17,.499,8.36,.499,7.6,.499,6.7,.499,6.22,.5,7.85,.5,7.25,.501,7.7,.501,7,.502,8.05,.502,7.78,.502,7.12,.503,7.25,.503,8,.504,7.55,.504,7.02,.504,6.8,.505,8.22,.505,8.1,.505,7.7,.505,7.25,.505,6.75,.506,7.6,.506,8.05,.506,6.78,.506,6.47,.507,7.65,.507,7.03,.507,6.82,.508,8.45,.508,8.22,.508,7.75,.508,7.48,.508,6.62,.508,6.4,.509,8.58,.509,7.85,.509,7.33,.51,8.1,.51,7.6,.51,7.1,.51,6.6,.511,7.8,.511,7.25,.512,8.43,.512,7.42,.513,8.35,.513,7.85,.513,7.12,.514,8.1,.514,8.75,.514,7.65,.514,8.48,.515,7.45,.515,7.1,.516,6.36,.516,6.02,.516,7.75,.517,7.48,.517,7.05,.518,7.4,.518,7.78,.519,8.7,.519,7.88,.52,8.1,.52,8.25,.52,6.92,.521,8.05,.522,8.25,.523,8.1,.523,7.93,.524,7.4,.524,7.2,.524,6.7,.524,6.5,.525,7.75,.526,6.24,.527,8.55,.528,8.38,.528,7.1,.529,8.33,.529,7.25,.529,7.47,.529,6.52,.53,7.48,.531,8.79,.532,7.93,.533,7.93,.533,6.98,.534,7.33,.534,7.26,.535,7.1,.537,7.33,.538,8.45,.539,7.05,.54,6.92,.543,7.45,.547,7.75,.551,7.42,.552,7.45,.553,7.46,.553,7.14,
  .49,7.32,.492,7.42,.494,7.7,.496,7.55,.498,7.68,.499,7.4,.5,7.6,.501,7.3,.502,7.45,.503,7.6,.504,7.35,.504,7.18,.505,7.5,.506,7.3,.506,7.15,.507,7.72,.507,7.4,.508,7.2,.509,7.6,.509,7.1,.51,7.45,.51,7.3,.511,7.6,.512,7.2,.512,7.7,.513,7.3,.514,7.15,.515,7.85,.516,7.45,.517,7.6];
const pts12 = [.386,8.55,.39,9.69,.43,7.91,.431,8.18,.436,7.8,.436,8.52,.44,8.26,.441,7.94,.442,8.38,.444,8.82,.446,8.91,.449,8.42,.452,8.02,.452,8.57,.454,8.44,.454,8.15,.455,7.96,.455,8.37,.457,8.37,.46,7.58,.46,7.85,.46,7.7,.461,7.77,.461,8.47,.462,8.14,.462,8.08,.462,7.7,.463,9.22,.463,9.02,.464,8.14,.464,7.73,.465,8.65,.465,8.6,.466,8.48,.466,7.87,.467,8.75,.468,8.42,.469,9.1,.469,8.32,.47,9.55,.47,8.92,.47,7.7,.471,8.33,.471,7.88,.471,7.63,.472,9.4,.472,7.98,.473,8.58,.473,8.24,.473,7.75,.474,8.7,.474,8.2,.474,7.62,.475,8.87,.475,9.04,.475,8.45,.476,8.02,.477,8.1,.477,8.52,.478,7.98,.479,8.5,.479,8.02,.48,9.35,.48,8.58,.48,7.78,.481,9.25,.481,8.25,.481,8.38,.482,7.85,.482,7.55,.483,8.75,.483,8.05,.484,7.97,.484,8.1,.485,9.4,.485,9.28,.485,7.55,.486,8.86,.486,8.4,.486,8.15,.487,8.08,.487,7.88,.487,7.13,.488,8.55,.488,8.2,.488,7.73,.489,8.73,.489,8.66,.49,8.95,.49,7.82,.49,7.17,.49,7.22,.491,8.45,.491,8.3,.491,7.72,.492,8.95,.492,8.57,.492,7.55,.493,8.3,.493,7.47,.494,8.48,.494,7.9,.495,8.42,.495,8.2,.495,7.35,.496,8.63,.496,8.0,.496,7.72,.497,8.55,.497,8.46,.498,8.1,.498,7.92,.498,7.47,.498,9.25,.499,8.88,.499,8.5,.5,8.3,.5,7.85,.5,7.15,.501,8.62,.501,8.05,.502,8.85,.502,8.3,.502,7.28,.503,8.55,.503,7.66,.504,8.1,.504,7.95,.505,8.6,.505,8.35,.505,7.72,.506,8.82,.506,8.0,.506,7.67,.507,8.58,.507,7.45,.507,7.35,.508,8.4,.508,7.98,.509,8.6,.509,8.3,.509,7.4,.51,8.0,.51,7.7,.511,8.2,.511,7.85,.512,8.52,.512,7.92,.512,7.48,.513,8.65,.513,8.35,.513,7.55,.514,8.2,.514,7.65,.515,8.47,.515,7.8,.516,8.12,.516,7.97,.517,8.38,.517,8.13,.518,8.07,.519,7.93,.52,7.65,.52,7.29,.521,7.76,.522,8.25,.522,9.02,.523,8.53,.523,8.4,.523,8.35,.524,7.79,.524,7.48,.525,9.17,.525,8.28,.526,7.98,.527,8.68,.527,8.4,.527,8.36,.528,8.74,.528,7.98,.529,8.53,.53,7.8,.531,7.56,.532,7.66,.534,8.15,.536,8.22,.536,7.98,.537,7.95,.538,7.92,.538,7.41,.54,8.2,.541,8.73,.542,7.55,.542,7.66,.56,8.8,.569,7.89,
  .48,8.3,.482,8.12,.483,8.25,.484,8.02,.485,8.05,.486,8.15,.487,8.25,.488,8.08,.489,8.3,.49,8.42,.491,8.2,.492,8.38,.493,8.48,.494,8.55,.495,8.5,.496,8.48,.497,8.35,.498,8.28,.499,8.55,.5,8.58,.501,8.5,.502,8.58,.503,8.25,.504,8.3,.505,8.0,.506,7.95,.507,7.98,.508,7.9,.509,7.92,.51,7.88];
const points = [pts1, pts2, pts3, pts4, pts5, pts6, pts7, pts8, pts9, pts10, pts11, pts12];

// layout: [left, right, top, bottom] of each plot box, then its two margins
const boxes = [
  [52.3, 406.7, 106, 426.7], [586.3, 940.7, 103.7, 424.7], [1120, 1474.7, 106, 426.7],
  [62.7, 408.7, 636.7, 958], [586.3, 940.7, 636.7, 958], [1120, 1474.7, 636.7, 958],
  [51.7, 406.7, 1166.7, 1488], [586.3, 940.7, 1166.7, 1488], [1130, 1476.7, 1166.7, 1488],
  [51.7, 406.7, 1698, 2019], [586.3, 940.7, 1697, 2018], [1119.3, 1474, 1698, 2019],
];
const topStrips = [[44, 59], [41.7, 59], [44, 59], [575, 59], [575, 59], [575, 59], [1105, 59], [1105, 59], [1105, 59], [1636.3, 58.7], [1635.3, 59], [1636.3, 58.7]];
const rightStrips = [[410.7, 64.3], [944.7, 64.3], [1478.7, 64.3], [412.7, 62.3], [944.7, 64.3], [1478.7, 64.3], [410.7, 64.3], [944.7, 64.3], [1480.7, 62.3], [410.7, 64.3], [944.7, 64.3], [1478, 65]];
const titleTops = [9, 7, 9, 541, 541, 541, 1071, 1071, 1071, 1601, 1600, 1601];
const yNameGaps = [22, 22, 22, 32, 22, 22, 22, 22, 32, 22, 22, 22];
const statOffsets = [92, 92, 92, 91, 92, 92, 86, 92, 92, 86, 92, 92];

const pairs = (flat: number[]) => {
  const out: number[][] = [];
  for (let i = 0; i < flat.length; i += 2) out.push([flat[i], flat[i + 1]]);
  return out;
};

const minorValues = (ticks: number[], range: number[]) => {
  const step = ticks[1] - ticks[0];
  const out: number[] = [];
  for (let v = ticks[0] - step * 1.5; v < range[1]; v += step) {
    if (v > range[0]) out.push(v);
  }
  return out;
};

const buildOption = () => {
  const grid: any[] = [];
  const xAxis: any[] = [];
  const yAxis: any[] = [];
  const series: any[] = [];
  const graphic: any[] = [];

  titles.forEach((_, i) => {
    const [left, right, top, bottom] = boxes[i];
    const xRange = xRanges[i];
    const yRange = yRanges[i];
    const main = i * 3;
    const upper = main + 1;
    const side = main + 2;
    const labelStyle = { color: '#4d4d4d', fontFamily: FONT, fontSize: 20 };
    const nameStyle = { color: '#1a1a1a', fontFamily: FONT, fontSize: 20.5 };
    const splitLine = { show: true, lineStyle: { color: '#ebebeb', width: 1.3 } };

    // the side density only covers the span of the data, so its grid is cut to that span
    const [spanTop, spanBottom] = rightSpan[i];
    const perUnit = (bottom - top) / (yRange[1] - yRange[0]);
    const sideTop = top + (yRange[1] - spanTop) * perUnit;
    const sideHeight = (spanTop - spanBottom) * perUnit;

    grid.push({ left, top, width: right - left, height: bottom - top, show: true, borderColor: '#7f7f7f', borderWidth: 1.5, backgroundColor: '#fff' });
    grid.push({ left, top: topStrips[i][0], width: right - left, height: topStrips[i][1] });
    grid.push({ left: rightStrips[i][0], top: sideTop, width: rightStrips[i][1], height: sideHeight });

    xAxis.push({
      gridIndex: main, type: 'value', min: xRange[0], max: xRange[1],
      name: xNames[i], nameLocation: 'middle', nameGap: 26, nameTextStyle: nameStyle,
      axisLine: { show: false },
      axisTick: { show: true, length: 3, lineStyle: { color: '#4d4d4d' }, customValues: xTicks[i] },
      axisLabel: { ...labelStyle, margin: 5, customValues: xTicks[i], formatter: (v: number) => v.toFixed(xDecimals[i]) },
      splitLine,
    });
    yAxis.push({
      gridIndex: main, type: 'value', min: yRange[0], max: yRange[1],
      name: yNames[i], nameLocation: 'middle', nameGap: yNameGaps[i], nameTextStyle: nameStyle,
      axisLine: { show: false },
      axisTick: { show: true, length: 3, lineStyle: { color: '#4d4d4d' }, customValues: yTicks[i] },
      axisLabel: { ...labelStyle, margin: 6, customValues: yTicks[i], formatter: (v: number) => String(Math.round(v)) },
      splitLine,
    });
    xAxis.push({ gridIndex: upper, type: 'value', min: xRange[0], max: xRange[1], show: false });
    yAxis.push({ gridIndex: upper, type: 'value', min: 0, max: 1, show: false });

    const right_ = rightDensity[i];
    xAxis.push({ gridIndex: side, type: 'value', min: 0, max: 1, show: false });
    yAxis.push({ gridIndex: side, type: 'category', inverse: true, boundaryGap: false, data: right_.map((_d, k) => String(k)), show: false });

    const inMain = { xAxisIndex: main, yAxisIndex: main };
    const minorX = minorValues(xTicks[i], xRange);
    const minorY = minorValues(yTicks[i], yRange);

    series.push({
      type: 'custom', ...inMain, z: 1, silent: true, clip: false, data: [[xRange[0], yRange[0]]],
      renderItem: (_p: any, api: any) => {
        const style = { stroke: '#f2f2f2', lineWidth: 0.8 };
        const children = [
          ...minorX.map((v) => {
            const a = api.coord([v, yRange[0]]);
            const b = api.coord([v, yRange[1]]);
            return { type: 'line', shape: { x1: a[0], y1: a[1], x2: b[0], y2: b[1] }, style };
          }),
          ...minorY.map((v) => {
            const a = api.coord([xRange[0], v]);
            const b = api.coord([xRange[1], v]);
            return { type: 'line', shape: { x1: a[0], y1: a[1], x2: b[0], y2: b[1] }, style };
          }),
        ];
        return { type: 'group', children };
      },
    });

    series.push({
      type: 'scatter', ...inMain, z: 3, symbol: 'circle', symbolSize: 6.8, silent: true,
      itemStyle: { color: '#000', opacity: 1 }, data: pairs(points[i]),
    });

    const [x0, x1] = lineXs[i];
    const [y0, y1] = lineYs[i];
    series.push({
      type: 'custom', ...inMain, z: 4, silent: true, data: [[x0, y0]],
      renderItem: (_p: any, api: any) => {
        const upperEdge: number[][] = [];
        const lowerEdge: number[][] = [];
        bandHalf[i].forEach((h, k) => {
          const t = k / (bandHalf[i].length - 1);
          const x = x0 + (x1 - x0) * t;
          const y = y0 + (y1 - y0) * t;
          upperEdge.push(api.coord([x, y + h]));
          lowerEdge.unshift(api.coord([x, y - h]));
        });
        return {
          type: 'polygon',
          shape: { points: [...upperEdge, ...lowerEdge] },
          style: { fill: 'rgba(153,153,153,0.45)' },
        };
      },
    });

    series.push({
      type: 'line', ...inMain, z: 5, silent: true, showSymbol: false,
      lineStyle: { color: '#3366ff', width: 2.4 },
      data: [[x0, y0], [x1, y1]],
    });

    const top_ = topDensity[i];
    series.push({
      type: 'line', xAxisIndex: upper, yAxisIndex: upper, silent: true, showSymbol: false, smooth: 0.5,
      lineStyle: { color: '#1a1a1a', width: 1.2 },
      areaStyle: { color: '#ffa500', opacity: 1 },
      data: top_.map((d, k) => [x0 + (x1 - x0) * k / (top_.length - 1), d]),
    });

    series.push({
      type: 'line', xAxisIndex: side, yAxisIndex: side, silent: true, showSymbol: false, smooth: 0.5,
      lineStyle: { color: '#1a1a1a', width: 1.2 },
      areaStyle: { color: '#0000ff', opacity: 1 },
      data: right_.map((d, k) => [d, k]),
    });

    const textStyle = { fontFamily: FONT, fontSize: 20, fill: '#111', align: 'center', verticalAlign: 'middle' };
    const rich = { i: { fontFamily: FONT, fontSize: 20, fontStyle: 'italic', fill: '#111' }, n: { fontFamily: FONT, fontSize: 20, fill: '#111' } };
    graphic.push({
      type: 'text', x: left + statOffsets[i], y: top + 39, z: 20,
      style: { ...textStyle, text: `{i|R}{n| = ${rLabels[i]}}`, rich },
    });
    graphic.push({
      type: 'text', x: left + statOffsets[i], y: top + 67, z: 20,
      style: { ...textStyle, text: `{i|p}{n| ${pLabels[i]}}`, rich },
    });
  });

  return {
    animation: false,
    backgroundColor: '#fff',
    title: titles.map((text, i) => ({
      text, left: boxes[i][0], top: titleTops[i], padding: 0,
      textStyle: { fontFamily: FONT, fontWeight: 'normal', fontSize: 21, color: '#1a1a1a' },
    })),
    grid, xAxis, yAxis, series, graphic,
  };
};

const App = () => {
  const chartRef = useRef<HTMLDivElement>(null);

  useEffect(() => {
    if (!chartRef.current) return;
    document.body.style.margin = '0';
    const myChart = echarts.init(chartRef.current, undefined, { renderer: 'svg' });
    myChart.setOption(buildOption() as any);
    return () => {
      myChart.dispose();
    };
  }, []);

  return <div ref={chartRef} style={{ width: 1559, height: 2075 }} />;
};

export default App;
